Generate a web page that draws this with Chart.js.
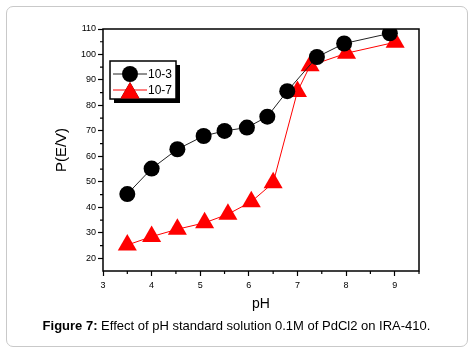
<!DOCTYPE html>
<html>
<head>
<meta charset="utf-8">
<script src="https://cdn.jsdelivr.net/npm/chart.js@4.4.1/dist/chart.umd.min.js"></script>
<style>
  html, body { margin: 0; padding: 0; background: #fff; }
  #wrap { position: relative; width: 473px; height: 358px; overflow: hidden; }
  #frame { position: absolute; left: 6px; top: 6px; width: 460px; height: 339px;
           border: 1.5px solid #c9c9c9; border-radius: 7px; }
  #cv { position: absolute; left: 0; top: 0; }
  #caption { position: absolute; left: 0; width: 473px; top: 318px; text-align: center;
             font-family: "Liberation Sans", Arial, sans-serif; font-size: 13px; color: #000; white-space: nowrap; }
</style>
</head>
<body>
<div id="wrap">
  <div id="frame"></div>
  <canvas id="cv" width="473" height="320" style="width:473px;height:320px"></canvas>
  <div id="caption"><b>Figure 7:</b> Effect of pH standard solution 0.1M of PdCl2 on IRA-410.</div>
</div>
<script>
// ---- data ----
const seriesLabels = ["10-3", "10-7"];
const phBlack  = [3.5, 4.0, 4.53, 5.07, 5.5, 5.96, 6.38, 6.79, 7.4, 7.96, 8.9];
const valBlack = [45.2, 55.2, 62.8, 68.0, 70.0, 71.3, 75.6, 85.6, 99.0, 104.3, 108.3];
const phRed    = [3.5, 4.0, 4.53, 5.09, 5.57, 6.05, 6.5, 7.0, 7.26, 8.01, 9.01];
const valRed   = [25.2, 28.5, 31.4, 33.9, 37.3, 42.2, 49.6, 85.5, 95.6, 100.5, 104.8];
const xTicks = [3, 4, 5, 6, 7, 8, 9];
const yTicks = [20, 30, 40, 50, 60, 70, 80, 90, 100, 110];
const xMinor = [3.5, 4.5, 5.5, 6.5, 7.5, 8.5, 9.5];
const yMinor = [25, 35, 45, 55, 65, 75, 85, 95, 105];

const toPts = (xs, ys) => xs.map((x, i) => ({ x: x, y: ys[i] }));

const FONT = '"Liberation Sans", Arial, sans-serif';

const framePlugin = {
  id: 'frameAndMinor',
  afterDraw(chart) {
    const { ctx, chartArea: a, scales } = chart;
    ctx.save();
    // minor ticks
    ctx.strokeStyle = '#000';
    ctx.lineWidth = 1.2;
    ctx.beginPath();
    xMinor.forEach(v => {
      const px = scales.x.getPixelForValue(v);
      ctx.moveTo(px, a.bottom); ctx.lineTo(px, a.bottom + 3);
    });
    yMinor.forEach(v => {
      const py = scales.y.getPixelForValue(v);
      ctx.moveTo(a.left, py); ctx.lineTo(a.left - 3, py);
    });
    ctx.stroke();
    // box
    ctx.lineWidth = 1.5;
    ctx.strokeRect(a.left, a.top, a.right - a.left, a.bottom - a.top);
    ctx.restore();
  }
};

const legendPlugin = {
  id: 'boxLegend',
  afterDatasetsDraw(chart) {
    const { ctx } = chart;
    const bx = 110, by = 61, bw = 66, bh = 38;
    ctx.save();
    ctx.fillStyle = '#000';
    ctx.fillRect(bx + 4, by + 4, bw, bh);
    ctx.fillStyle = '#fff';
    ctx.fillRect(bx, by, bw, bh);
    ctx.strokeStyle = '#000';
    ctx.lineWidth = 1.5;
    ctx.strokeRect(bx, by, bw, bh);
    chart.data.datasets.forEach((ds, i) => {
      const cy = by + 13 + i * 16;
      const cx = bx + 20;
      ctx.strokeStyle = ds.borderColor;
      ctx.lineWidth = 1;
      ctx.beginPath();
      ctx.moveTo(bx + 3, cy); ctx.lineTo(bx + 37, cy);
      ctx.stroke();
      Chart.helpers.drawPoint(ctx, {
        pointStyle: ds.pointStyle, radius: ds.pointRadius, borderWidth: 0, rotation: 0
      }, cx, cy + (ds.pointStyle === 'triangle' ? 3 : 0));
      ctx.fillStyle = ds.pointBackgroundColor;
      ctx.fill();
      ctx.fillStyle = '#000';
      ctx.font = '12px ' + FONT;
      ctx.textBaseline = 'middle';
      ctx.textAlign = 'left';
      ctx.fillText(ds.label, bx + 38, cy + 1);
    });
    ctx.restore();
  }
};

new Chart(document.getElementById('cv'), {
  type: 'scatter',
  data: {
    datasets: [
      {
        label: seriesLabels[0],
        data: toPts(phBlack, valBlack),
        showLine: true,
        borderColor: '#222',
        borderWidth: 1,
        pointStyle: 'circle',
        pointRadius: 8,
        pointHoverRadius: 8,
        pointBackgroundColor: '#000',
        pointBorderColor: '#000',
        pointBorderWidth: 0
      },
      {
        label: seriesLabels[1],
        data: toPts(phRed, valRed),
        showLine: true,
        borderColor: '#ff0000',
        borderWidth: 1,
        pointStyle: 'triangle',
        pointRadius: 11,
        pointHoverRadius: 11,
        pointBackgroundColor: '#ff0000',
        pointBorderColor: '#ff0000',
        pointBorderWidth: 0
      }
    ]
  },
  options: {
    responsive: false,
    animation: false,
    events: [],
    layout: { padding: { left: 0, top: 29, right: 54, bottom: 0 } },
    plugins: { legend: { display: false }, tooltip: { enabled: false } },
    scales: {
      x: {
        type: 'linear',
        min: 3, max: 9.5,
        afterBuildTicks: s => { s.ticks = xTicks.map(v => ({ value: v })); },
        afterFit: s => { s.height = 49; },
        grid: { display: true, drawOnChartArea: false, drawTicks: true, tickLength: 5, tickWidth: 1.2, tickColor: '#000' },
        border: { display: false },
        ticks: { color: '#000', font: { family: FONT, size: 9 }, padding: 4, maxRotation: 0 },
        title: { display: true, text: 'pH', color: '#000', font: { family: FONT, size: 14 }, padding: { bottom: 7 } }
      },
      y: {
        type: 'linear',
        min: 15, max: 110,
        afterBuildTicks: s => { s.ticks = yTicks.map(v => ({ value: v })); },
        afterFit: s => { s.width = 103; },
        grid: { display: true, drawOnChartArea: false, drawTicks: true, tickLength: 5, tickWidth: 1.2, tickColor: '#000' },
        border: { display: false },
        ticks: { color: '#000', font: { family: FONT, size: 9 }, padding: 2 },
        title: { display: true, text: 'P(E/V)', color: '#000', font: { family: FONT, size: 15 }, padding: { top: 53 } }
      }
    }
  },
  plugins: [framePlugin, legendPlugin]
});
</script>
</body>
</html>
